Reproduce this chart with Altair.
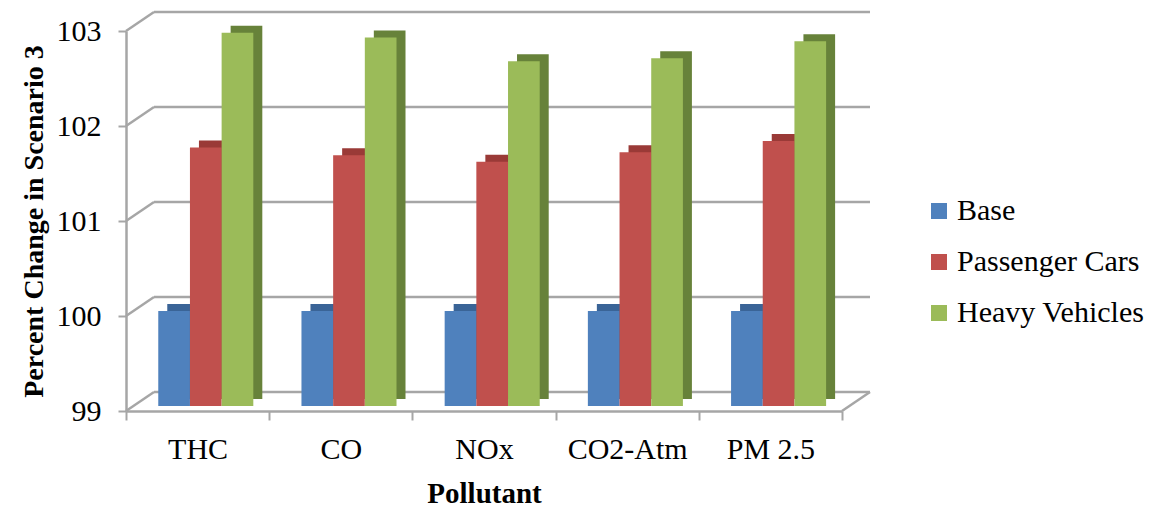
import altair as alt
import pandas as pd

pollutants = ["THC", "CO", "NOx", "CO2-Atm", "PM 2.5"]
series = ["Base", "Passenger Cars", "Heavy Vehicles"]
base_vals = [100.0, 100.0, 100.0, 100.0, 100.0]
cars_vals = [101.72, 101.64, 101.57, 101.67, 101.79]
heavy_vals = [102.93, 102.88, 102.63, 102.66, 102.84]
y_ticks = [99, 100, 101, 102, 103]

front_colors = ["#4F81BD", "#C0504D", "#9BBB59"]
dark_colors = ["#3A6497", "#9A3A37", "#67823A"]

rows = []
for i, p in enumerate(pollutants):
    for s, vals in zip(series, [base_vals, cars_vals, heavy_vals]):
        rows.append({"Pollutant": p, "Series": s, "Value": vals[i], "Base": 99})
df = pd.DataFrame(rows)
ticks_df = pd.DataFrame({"t": y_ticks})

W, H = 716, 380
DX, DY = 28, -19
FONT = "Times New Roman, Liberation Serif, serif"
GRID = "#A6A6A6"
FS = 30

yscale = alt.Scale(domain=[99, 103], nice=False, zero=False)
yaxis = alt.Axis(
    title="Percent Change in Scenario 3",
    values=y_ticks,
    format="d",
    labelFont=FONT,
    labelFontSize=FS,
    labelColor="black",
    labelPadding=17,
    titleFont=FONT,
    titleFontSize=28,
    titleFontWeight="bold",
    titleColor="black",
    titlePadding=8,
    domainColor=GRID,
    domainWidth=2.5,
    tickColor=GRID,
    tickWidth=2,
    tickSize=8,
    grid=False,
)

back_grid = alt.Chart(ticks_df).mark_rule(color=GRID, strokeWidth=2.5, yOffset=DY, y2Offset=DY).encode(
    y=alt.Y("t:Q", scale=yscale, axis=yaxis),
    x=alt.value(DX),
    x2=alt.value(W + DX),
)
diag = alt.Chart(ticks_df).mark_rule(color=GRID, strokeWidth=2.5, y2Offset=DY).encode(
    y=alt.Y("t:Q", scale=yscale, axis=yaxis),
    y2=alt.Y2("t:Q"),
    x=alt.value(0),
    x2=alt.value(DX),
)
floor_diag = alt.Chart(pd.DataFrame({"t": [99]})).mark_rule(color=GRID, strokeWidth=2.5, y2Offset=DY).encode(
    y=alt.Y("t:Q", scale=yscale, axis=yaxis),
    y2=alt.Y2("t:Q"),
    x=alt.value(W),
    x2=alt.value(W + DX),
)

xoff_scale = alt.Scale(domain=series, paddingInner=0, paddingOuter=0.76, align=0.67)

dark = alt.Chart(df).mark_bar(yOffset=-12, y2Offset=-12).encode(
    x=alt.X("Pollutant:N", sort=pollutants, scale=alt.Scale(paddingInner=0, paddingOuter=0, range=[9, W + 9]), axis=None),
    xOffset=alt.XOffset("Series:N", sort=series, scale=xoff_scale),
    y=alt.Y("Value:Q", scale=yscale, axis=yaxis),
    y2=alt.Y2("Base:Q"),
    color=alt.Color("Series:N", scale=alt.Scale(domain=series, range=dark_colors), legend=None),
)

front = alt.Chart(df).mark_bar(yOffset=-5, y2Offset=-5).encode(
    x=alt.X(
        "Pollutant:N",
        sort=pollutants,
        scale=alt.Scale(paddingInner=0, paddingOuter=0),
        axis=alt.Axis(
            title="Pollutant",
            orient="bottom",
            labelAngle=0,
            labelFont=FONT,
            labelFontSize=FS,
            labelColor="black",
            labelPadding=14,
            titleFont=FONT,
            titleFontSize=29,
            titleFontWeight="bold",
            titleColor="black",
            titlePadding=15,
            domainColor=GRID,
            domainWidth=2.5,
            tickColor=GRID,
            tickWidth=2,
            tickSize=9,
            tickBand="extent",
            grid=False,
        ),
    ),
    xOffset=alt.XOffset("Series:N", sort=series, scale=xoff_scale),
    y=alt.Y("Value:Q", scale=yscale, axis=yaxis),
    y2=alt.Y2("Base:Q"),
    color=alt.Color(
        "Series:N",
        scale=alt.Scale(domain=series, range=front_colors),
        legend=alt.Legend(
            title=None,
            orient="none",
            legendX=798,
            legendY=165,
            symbolType="square",
            symbolSize=256,
            symbolStrokeWidth=0,
            symbolOpacity=1,
            labelFont=FONT,
            labelFontSize=FS,
            labelColor="black",
            labelOffset=3,
            labelLimit=400,
            rowPadding=21,
        ),
    ),
)

chart = (
    alt.layer(back_grid, diag, floor_diag, dark, front)
    .resolve_scale(x="independent", xOffset="independent", color="independent")
    .properties(
        width=W,
        height=H,
        autosize=alt.AutoSizeParams(type="none"),
        padding={"left": 126, "top": 31, "right": 326, "bottom": 96},
        view=alt.ViewBackground(stroke="transparent", strokeWidth=0, strokeOpacity=0),
    )
    .configure_view(stroke="transparent", strokeWidth=0, strokeOpacity=0)
    .configure_axis(labelFont=FONT, titleFont=FONT)
    .configure_legend(labelFont=FONT)
    .configure(background="white", font=FONT)
)

chart.save("out.html", embed_options={"renderer": "svg", "actions": False})
